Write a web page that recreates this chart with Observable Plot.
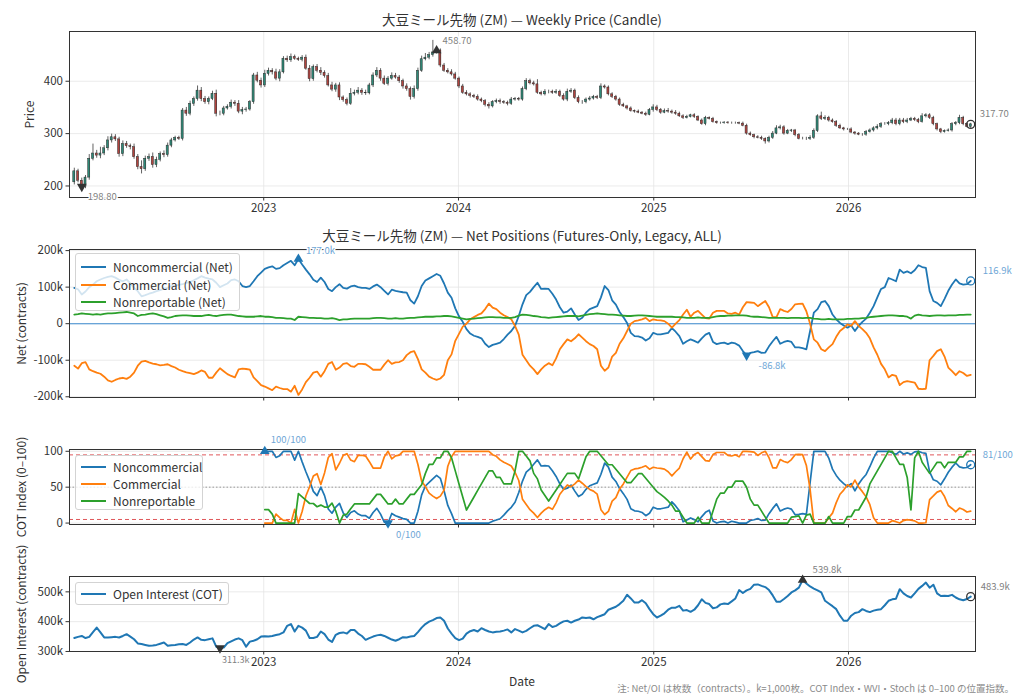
<!DOCTYPE html>
<html><head><meta charset="utf-8">
<script src="https://cdn.jsdelivr.net/npm/d3@7"></script>
<script src="https://cdn.jsdelivr.net/npm/@observablehq/plot@0.6"></script>
<style>
html,body{margin:0;padding:0;background:#fff;}
#wrap{position:relative;width:1024px;height:699px;overflow:hidden;font-family:"Noto Sans CJK JP","Noto Sans",sans-serif;color:#333;}
.panel{position:absolute;left:0;}
.title{position:absolute;left:69px;width:906px;text-align:center;font-size:13.5px;color:#333;white-space:nowrap;line-height:16px;}
.leg{position:absolute;background:rgba(255,255,255,0.8);border:1px solid #d3d3d3;border-radius:3px;box-sizing:border-box;}
.leg .sw{position:absolute;left:5px;width:25px;height:0;border-top:2px solid;}
.leg .lb{position:absolute;left:37px;font-size:12px;color:#333;white-space:nowrap;line-height:15px;}
.note{position:absolute;font-size:9.5px;color:#8a8a8a;white-space:nowrap;}
</style></head>
<body><div id="wrap"></div>
<script>
// ---------------- DATA ----------------
const startDate = "2022-01-11";           // first weekly observation
const xTicks = ["2023-01-01", "2024-01-01", "2025-01-01", "2026-01-01"];
const priceTicks = [200, 300, 400];
const netTicks = [-200, -100, 0, 100, 200];
const cotTicks = [0, 50, 100];
const oiTicks = [300, 400, 500];

// weekly close (ZM futures)
const closes = [
228,210,198.8,216,252,262,258,262,272,287,
293,289,261,280,276,274,255,236,232,252,
255,240,250,261,259,277,287,292,290,344,
338,357,366,382,366,360,366,376,338,338,
348,351,359,357,342,345,346,360,411,401,
392,414,420,417,405,417,443,440,446,443,
441,445,424,404,427,420,416,410,392,384,
392,369,364,357,376,378,382,378,377,392,
411,420,405,395,405,410,407,400,390,385,
370,385,420,442,445,450,455,458.7,430,420,
417,413,405,390,378,375,372,370,365,362,
355,352,360,362,360,359,357,365,366,365,
385,400,396,394,378,375,380,380,378,380,
372,365,380,382,368,360,360,365,367,370,
368,390,388,375,370,365,355,352,348,343,
342,340,338,336,345,350,345,340,343,342,
340,338,333,330,332,335,332,325,318,330,
328,322,320,320,321,320,320,320,319,315,
300,297,293,292,290,285,292,300,310,312,
300,305,306,297,290,290,290,292,305,333,
328,330,325,322,315,310,308,308,302,300,
298,298,303,306,310,313,318,318,320,325,
318,325,322,325,328,326,322,333,335,330,
318,308,303,305,306,318,320,330,318,313,
317.7];
const firstOpen = 207;
// upper / lower wick lengths beyond the body
const wickHi = [
6,4,5,4,8,18,6,12,5,7,6,5,4,6,5,4,6,5,12,5,
6,8,5,4,6,5,4,3,3,4,6,5,4,9,6,5,4,5,7,5,
4,4,5,4,6,5,4,3,4,6,5,7,5,4,6,5,4,5,6,4,
3,4,5,6,4,5,6,4,5,6,4,5,3,4,10,5,6,4,5,4,
5,6,4,5,4,6,5,4,4,5,4,6,5,6,8,5,23,4,3,4,
4,5,4,3,4,4,3,3,4,3,3,4,3,4,4,3,3,4,3,3,
4,5,4,4,9,3,4,3,3,4,3,4,5,4,3,4,3,3,4,3,
3,5,3,3,3,3,3,3,2,3,2,3,2,3,3,5,4,3,4,5,
3,4,3,3,3,2,3,2,3,3,2,3,2,2,2,2,2,2,2,3,
3,3,2,3,3,2,3,4,5,4,3,3,2,2,3,3,3,4,4,3,
8,4,3,3,3,3,2,2,3,2,2,2,3,3,3,4,3,3,3,4,
4,4,4,4,3,3,3,5,3,3,3,2,2,2,3,3,3,5,3,2,
2];
const wickLo = [
5,4,3,4,5,4,5,6,4,5,5,4,6,5,4,5,4,5,9,4,
5,6,5,4,5,4,4,3,3,4,5,4,5,4,5,4,5,3,6,4,
4,3,4,5,4,6,4,3,4,4,5,4,4,5,4,6,3,4,4,3,
3,4,3,5,4,4,5,4,3,4,5,6,4,4,3,4,4,5,4,3,
4,4,5,3,4,3,3,4,5,4,6,4,4,3,3,4,4,3,4,3,
3,3,3,4,3,3,4,3,3,3,4,5,3,3,4,3,4,3,3,3,
3,3,3,3,3,3,3,4,3,3,3,3,4,3,3,3,4,3,3,3,
3,3,3,3,3,3,3,2,3,2,3,2,2,3,2,4,3,3,2,3,
3,3,2,3,2,2,3,2,2,3,2,2,2,2,2,2,2,2,2,2,
3,2,3,2,3,5,3,3,2,3,3,2,3,3,2,2,3,3,3,3,
3,3,3,2,3,2,3,2,2,3,2,3,3,2,3,3,3,2,3,3,
3,3,3,3,2,3,3,2,3,3,3,3,3,2,2,3,3,3,3,2,
3];

// net positions, thousand contracts
const netNonComm = [
98,94,80,88,100,107,116,121,125,128,
130,126,120,116,121,110,98,89,75,78,
82,85,89,92,96,98,103,104,106,108,
112,114,119,124,130,126,123,121,112,100,
105,110,119,121,116,103,100,103,116,130,
140,150,154,157,150,152,160,166,172,160,
177,162,148,135,120,114,126,114,95,89,
100,108,98,96,102,104,100,98,98,95,
102,107,100,90,80,93,90,88,86,85,
64,55,75,103,118,124,130,136,131,110,
85,71,42,20,5,-15,-27,-33,-36,-40,
-55,-64,-58,-55,-52,-42,-30,-20,-6,21,
53,78,87,100,112,95,96,95,82,66,
45,30,33,42,25,10,16,30,40,44,
48,72,103,92,64,52,32,18,2,-25,
-34,-35,-38,-46,-40,-25,-29,-29,-27,-25,
-12,-22,-34,-55,-48,-43,-47,-52,-40,-30,
-25,-50,-56,-53,-52,-56,-52,-54,-60,-75,
-86.8,-80,-78,-75,-80,-79,-62,-48,-36,-55,
-50,-47,-50,-65,-65,-67,-70,-20,30,40,
59,62,48,25,12,2,-5,-11,-5,-20,
-6,5,14,30,48,72,95,100,125,121,
116,148,139,143,138,146,160,155,153,89,
62,57,48,68,90,107,121,110,107,108,
116.9];
const netComm = [
-115,-123,-108,-105,-125,-130,-134,-137,-145,-155,
-159,-154,-150,-148,-151,-145,-134,-115,-104,-102,
-106,-109,-111,-114,-113,-111,-116,-120,-126,-130,
-133,-135,-138,-134,-128,-132,-148,-148,-134,-122,
-130,-138,-143,-147,-125,-123,-124,-126,-147,-157,
-168,-172,-177,-182,-172,-176,-179,-179,-186,-170,
-195,-180,-160,-148,-134,-131,-145,-130,-110,-105,
-126,-120,-110,-108,-116,-118,-110,-110,-111,-118,
-126,-126,-126,-112,-100,-110,-106,-105,-100,-86,
-78,-75,-97,-125,-134,-145,-150,-154,-150,-140,
-100,-84,-47,-28,-8,0,12,18,24,28,
40,55,44,40,30,23,18,12,-6,-30,
-85,-100,-115,-125,-138,-125,-115,-108,-114,-95,
-70,-56,-43,-48,-40,-29,-38,-48,-56,-61,
-70,-115,-129,-120,-90,-80,-55,-40,-20,0,
7,9,12,16,7,12,10,9,7,0,
-11,0,10,25,38,19,30,35,25,15,
14,30,35,35,35,28,27,30,25,45,
59,58,57,48,55,62,45,18,18,40,
35,32,40,53,54,55,34,0,-43,-52,
-70,-75,-65,-56,-36,-20,-12,-2,-6,7,
-6,-15,-25,-40,-65,-85,-110,-125,-147,-140,
-143,-168,-160,-157,-159,-161,-178,-179,-178,-100,
-88,-75,-70,-90,-120,-130,-141,-130,-135,-143,
-140];
const netNonRep = [
25,26,28,27,26,25,26,25,27,28,
28,29,30,31,32,30,28,21,24,25,
27,28,26,23,20,16,18,21,22,23,
23,22,21,21,21,23,24,22,21,23,
24,25,25,23,21,20,19,19,19,20,
21,19,19,18,16,16,15,14,14,10,
19,18,17,16,16,15,15,14,14,15,
13,10,12,12,13,14,14,14,14,14,
15,16,16,15,14,14,15,14,14,15,
16,16,17,18,19,19,19,20,20,21,
21,20,18,16,14,12,13,14,15,16,
17,18,18,17,17,16,16,16,18,22,
25,24,23,21,20,18,17,16,17,18,
19,20,21,21,21,20,22,24,26,27,
28,27,26,25,25,24,23,22,21,21,
22,23,23,22,21,20,19,19,19,19,
19,18,18,17,16,16,16,17,16,16,
16,18,20,21,21,22,22,23,23,23,
22,20,19,19,18,17,16,16,16,16,
16,15,16,16,16,15,16,16,14,13,
12,12,13,12,12,12,12,13,13,14,
14,15,16,18,19,20,21,22,23,23,
22,21,21,19,14,22,25,23,22,21,
22,23,23,22,23,23,23,24,24,25,
25];

// open interest, thousand contracts
const openInterest = [
345,349,352,345,349,365,380,364,347,347,
348,349,347,352,358,350,341,327,325,322,
319,320,322,326,330,319,321,322,324,325,
322,330,340,347,339,338,341,344,316,311.3,
313,328,334,340,344,338,316,333,336,341,
350,351,350,352,355,358,364,386,392,367,
386,380,370,345,345,349,367,358,340,332,
356,362,364,360,372,372,360,352,339,345,
350,354,356,352,346,340,336,341,348,347,
350,352,365,380,392,400,405,412,414,403,
377,360,345,338,343,360,368,372,367,378,
372,367,364,366,367,370,374,364,375,370,
364,369,378,386,388,382,375,392,382,386,
394,401,403,397,403,407,414,412,414,408,
415,420,425,440,445,450,459,470,490,478,
464,464,472,462,442,425,414,420,428,440,
447,447,453,437,439,433,440,455,475,463,
459,445,448,458,461,459,468,478,506,496,
505,510,524,525,520,516,506,488,467,467,
476,486,498,505,514,539.8,528,518,511,505,
498,470,461,452,442,420,403,403,420,429,
432,442,436,432,437,440,442,455,470,475,
477,509,495,486,481,495,510,520,531,514,
524,495,486,487,486,490,481,475,472,476,
483.9];

const cotWindow = 52; // weeks of look-back for the COT index

// ---------------- BUILD ----------------
const t0 = new Date(startDate + "T00:00:00Z");
const dates = closes.map((_, i) => d3.utcDay.offset(t0, 7 * i));
const xTickDates = xTicks.map(d => new Date(d + "T00:00:00Z"));
const X = {type: "utc", domain: [new Date("2022-01-02T00:00:00Z"), new Date("2026-08-27T00:00:00Z")], label: null};

const candles = closes.map((c, i) => {
  const o = i ? closes[i - 1] : firstOpen;
  return {
    date: dates[i],
    x1: d3.utcHour.offset(dates[i], -46), x2: d3.utcHour.offset(dates[i], 46),
    open: o, close: c,
    high: Math.max(o, c) + wickHi[i], low: Math.min(o, c) - wickLo[i],
    up: c >= o
  };
});

const netRows = dates.map((d, i) => ({date: d, nc: netNonComm[i], c: netComm[i], nr: netNonRep[i]}));

function cotIndex(arr) {
  return arr.map((v, i) => {
    if (i < cotWindow - 1) return null;
    const w = arr.slice(i - cotWindow + 1, i + 1);
    const lo = d3.min(w), hi = d3.max(w);
    return hi > lo ? 100 * (v - lo) / (hi - lo) : 50;
  });
}
const idxNC = cotIndex(netNonComm), idxC = cotIndex(netComm), idxNR = cotIndex(netNonRep);
const cotRows = dates.map((d, i) => ({date: d, nc: idxNC[i], c: idxC[i], nr: idxNR[i]})).filter(r => r.nc != null);
const oiRows = dates.map((d, i) => ({date: d, oi: openInterest[i]}));

const C_NC = "#1f77b4", C_C = "#ff7f0e", C_NR = "#2ca02c";
const UP = "#2f8a78", DOWN = "#b2443f";
const ANN_BLUE = "#6ea6d6", ANN_GRAY = "#7f7f7f";
const gridCol = "#e4e4e4";
const st = {fontFamily: '"Noto Sans CJK JP","Noto Sans",sans-serif', fontSize: "11px", color: "#333", background: "transparent", overflow: "visible"};

function baseMarks(yTicks, yFmt, showXLabels, yLabel, labelDx) {
  return [
    Plot.gridX(xTickDates, {stroke: gridCol, strokeOpacity: 1, strokeWidth: 0.8}),
    Plot.gridY(yTicks, {stroke: gridCol, strokeOpacity: 1, strokeWidth: 0.8}),
    Plot.axisY(yTicks, {tickFormat: yFmt, tickSize: 3.5, tickPadding: 3, fontSize: 11.5, label: null}),
    Plot.axisX(xTickDates, {tickFormat: showXLabels ? d3.utcFormat("%Y") : () => "", tickSize: 3.5, tickPadding: 3, fontSize: 11.5, label: null}),
    Plot.text([yLabel], {text: d => d, frameAnchor: "left", dx: labelDx, rotate: -90, textAnchor: "middle", lineAnchor: "middle", fontSize: 12, fill: "#333"})
  ];
}
const halo = {stroke: "white", strokeWidth: 3, paintOrder: "stroke"};
const AF = 9.5; // annotation font size

// ---- price panel
const pMax = d3.maxIndex(closes), pMin = d3.minIndex(closes), last = closes.length - 1;
const p1 = Plot.plot({
  width: 1024, height: 215, marginTop: 31, marginBottom: 18, marginLeft: 69, marginRight: 49,
  x: X, y: {domain: [178, 495], label: null}, style: st,
  marks: [
    ...baseMarks(priceTicks, d => d, true, "Price", -39),
    Plot.ruleX(candles, {x: "date", y1: "low", y2: "high", stroke: "#3a3a3a", strokeWidth: 0.8}),
    Plot.rect(candles.filter(d => d.up), {x1: "x1", x2: "x2", y1: "open", y2: "close", fill: UP, stroke: "#2a2a2a", strokeWidth: 0.5}),
    Plot.rect(candles.filter(d => !d.up), {x1: "x1", x2: "x2", y1: "open", y2: "close", fill: DOWN, stroke: "#2a2a2a", strokeWidth: 0.5}),
    Plot.frame({stroke: "#333", strokeWidth: 1}),
    Plot.dot([pMax], {x: i => dates[i], y: i => closes[i], symbol: "triangle", fill: "#333", r: 3.6}),
    Plot.dot([pMin], {x: i => dates[i], y: i => closes[i], symbol: "triangle", rotate: 180, fill: "#333", r: 3.6}),
    Plot.dot([last], {x: i => dates[i], y: i => closes[i], r: 4, fill: "none", stroke: "#333", strokeWidth: 1.3}),
    Plot.text([pMax], {x: i => dates[i], y: i => closes[i], text: i => closes[i].toFixed(2), dx: 6, dy: -10, textAnchor: "start", fill: ANN_GRAY, fontSize: AF, ...halo}),
    Plot.text([pMin], {x: i => dates[i], y: i => closes[i], text: i => closes[i].toFixed(2), dx: 6, dy: 10, textAnchor: "start", fill: ANN_GRAY, fontSize: AF, ...halo}),
    Plot.text([last], {x: i => dates[i], y: i => closes[i], text: i => closes[i].toFixed(2), dx: 9, dy: -10, textAnchor: "start", fill: ANN_GRAY, fontSize: AF, ...halo})
  ]
});

// ---- net positions panel
const nMax = d3.maxIndex(netNonComm), nMin = d3.minIndex(netNonComm);
const kFmt = d => d === 0 ? "0" : `${d}k`;
const p2 = Plot.plot({
  width: 1024, height: 180, marginTop: 24, marginBottom: 8, marginLeft: 69, marginRight: 49,
  x: X, y: {domain: [-202, 203], label: null}, style: st,
  marks: [
    ...baseMarks(netTicks, kFmt, false, "Net (contracts)", -47),
    Plot.ruleY([0], {stroke: "#3d8bd0", strokeWidth: 1.1}),
    Plot.line(netRows, {x: "date", y: "nc", stroke: C_NC, strokeWidth: 1.8}),
    Plot.line(netRows, {x: "date", y: "c", stroke: C_C, strokeWidth: 1.8}),
    Plot.line(netRows, {x: "date", y: "nr", stroke: C_NR, strokeWidth: 1.8}),
    Plot.frame({stroke: "#333", strokeWidth: 1}),
    Plot.dot([nMax], {x: i => dates[i], y: i => netNonComm[i], symbol: "triangle", fill: C_NC, r: 3.6}),
    Plot.dot([nMin], {x: i => dates[i], y: i => netNonComm[i], symbol: "triangle", rotate: 180, fill: C_NC, r: 3.6}),
    Plot.dot([last], {x: i => dates[i], y: i => netNonComm[i], r: 4, fill: "none", stroke: C_NC, strokeWidth: 1.3}),
    Plot.text([nMax], {x: i => dates[i], y: i => netNonComm[i], text: i => netNonComm[i].toFixed(1) + "k", dx: 22, dy: -8, fill: ANN_BLUE, fontSize: AF, ...halo}),
    Plot.text([nMin], {x: i => dates[i], y: i => netNonComm[i], text: i => netNonComm[i].toFixed(1) + "k", dx: 12, dy: 11, textAnchor: "start", fill: ANN_BLUE, fontSize: AF, ...halo}),
    Plot.text([last], {x: i => dates[i], y: i => netNonComm[i], text: i => netNonComm[i].toFixed(1) + "k", dx: 12, dy: -10, textAnchor: "start", fill: ANN_BLUE, fontSize: AF, ...halo})
  ]
});

// ---- COT index panel
const ncVals = cotRows.map(r => r.nc);
const cMaxR = cotRows[d3.maxIndex(ncVals)], cMinR = cotRows[d3.minIndex(ncVals)], cLastR = cotRows[cotRows.length - 1];
const p3 = Plot.plot({
  width: 1024, height: 92, marginTop: 9, marginBottom: 8, marginLeft: 69, marginRight: 49,
  x: X, y: {domain: [-2, 102.5], label: null}, style: st,
  marks: [
    ...baseMarks(cotTicks, d => d, false, "COT Index (0–100)", -47),
    Plot.ruleY([95, 5], {stroke: "#e0575a", strokeWidth: 1, strokeDasharray: "4,3"}),
    Plot.ruleY([50], {stroke: "#9a9a9a", strokeWidth: 1, strokeDasharray: "1.5,2"}),
    Plot.line(cotRows, {x: "date", y: "nc", stroke: C_NC, strokeWidth: 1.7}),
    Plot.line(cotRows, {x: "date", y: "c", stroke: C_C, strokeWidth: 1.7}),
    Plot.line(cotRows, {x: "date", y: "nr", stroke: C_NR, strokeWidth: 1.7}),
    Plot.frame({stroke: "#333", strokeWidth: 1}),
    Plot.dot([cMaxR], {x: "date", y: "nc", symbol: "triangle", fill: C_NC, r: 3.6}),
    Plot.dot([cMinR], {x: "date", y: "nc", symbol: "triangle", rotate: 180, fill: C_NC, r: 3.6}),
    Plot.dot([cLastR], {x: "date", y: "nc", r: 4, fill: "none", stroke: C_NC, strokeWidth: 1.3}),
    Plot.text([cMaxR], {x: "date", y: "nc", text: r => `${Math.round(r.nc)}/100`, dx: 6, dy: -11, textAnchor: "start", fill: ANN_BLUE, fontSize: AF, ...halo}),
    Plot.text([cMinR], {x: "date", y: "nc", text: r => `${Math.round(r.nc)}/100`, dx: 8, dy: 12, textAnchor: "start", fill: ANN_BLUE, fontSize: AF, ...halo}),
    Plot.text([cLastR], {x: "date", y: "nc", text: r => `${Math.round(r.nc)}/100`, dx: 12, dy: -10, textAnchor: "start", fill: ANN_BLUE, fontSize: AF, ...halo})
  ]
});

// ---- open interest panel
const oMax = d3.maxIndex(openInterest), oMin = d3.minIndex(openInterest);
const p4 = Plot.plot({
  width: 1024, height: 139, marginTop: 16, marginBottom: 48, marginLeft: 69, marginRight: 49,
  x: X, y: {domain: [299.9, 551.5], label: null}, style: st,
  marks: [
    ...baseMarks(oiTicks, d => `${d}k`, true, "Open Interest (contracts)", -47),
    Plot.line(oiRows, {x: "date", y: "oi", stroke: C_NC, strokeWidth: 2}),
    Plot.frame({stroke: "#333", strokeWidth: 1}),
    Plot.dot([oMax], {x: i => dates[i], y: i => openInterest[i], symbol: "triangle", fill: "#333", r: 3.6}),
    Plot.dot([oMin], {x: i => dates[i], y: i => openInterest[i], symbol: "triangle", rotate: 180, fill: "#333", r: 3.6}),
    Plot.dot([last], {x: i => dates[i], y: i => openInterest[i], r: 4, fill: "none", stroke: "#333", strokeWidth: 1.3}),
    Plot.text([oMax], {x: i => dates[i], y: i => openInterest[i], text: i => openInterest[i].toFixed(1) + "k", dx: 10, dy: -10, textAnchor: "start", fill: ANN_GRAY, fontSize: AF, ...halo}),
    Plot.text([oMin], {x: i => dates[i], y: i => openInterest[i], text: i => openInterest[i].toFixed(1) + "k", dx: 2, dy: 12, textAnchor: "start", fill: ANN_GRAY, fontSize: 9, ...halo}),
    Plot.text([last], {x: i => dates[i], y: i => openInterest[i], text: i => openInterest[i].toFixed(1) + "k", dx: 10, dy: -10, textAnchor: "start", fill: ANN_GRAY, fontSize: AF, ...halo})
  ]
});

// ---------------- LAYOUT ----------------
const wrap = document.getElementById("wrap");
function place(node, top) { const d = document.createElement("div"); d.className = "panel"; d.style.top = top + "px"; d.appendChild(node); wrap.appendChild(d); }
place(p1, 0); place(p2, 225); place(p3, 440); place(p4, 560);

function addTitle(text, top) { const t = document.createElement("div"); t.className = "title"; t.style.top = top + "px"; t.textContent = text; wrap.appendChild(t); }
addTitle("大豆ミール先物 (ZM) — Weekly Price (Candle)", 11);
addTitle("大豆ミール先物 (ZM) — Net Positions (Futures-Only, Legacy, ALL)", 227);

function addLegend(left, top, w, h, items, rowTop, rowGap) {
  const b = document.createElement("div"); b.className = "leg";
  Object.assign(b.style, {left: left + "px", top: top + "px", width: w + "px", height: h + "px"});
  items.forEach(([label, color], k) => {
    const cy = rowTop + k * rowGap;
    const s = document.createElement("div"); s.className = "sw"; s.style.borderTopColor = color; s.style.top = (cy - 1) + "px"; b.appendChild(s);
    const l = document.createElement("div"); l.className = "lb"; l.style.top = (cy - 8) + "px"; l.textContent = label; b.appendChild(l);
  });
  wrap.appendChild(b);
}
addLegend(75, 253, 165, 58, [["Noncommercial (Net)", C_NC], ["Commercial (Net)", C_C], ["Nonreportable (Net)", C_NR]], 13, 17.5);
addLegend(75, 455, 128, 55, [["Noncommercial", C_NC], ["Commercial", C_C], ["Nonreportable", C_NR]], 11, 17);
addLegend(75, 582, 154, 23, [["Open Interest (COT)", C_NC]], 11, 17);

const dl = document.createElement("div"); dl.className = "title"; dl.style.top = "673px"; dl.style.fontSize = "12px"; dl.textContent = "Date"; wrap.appendChild(dl);
const note = document.createElement("div"); note.className = "note"; note.style.right = "10px"; note.style.top = "681px";
note.textContent = "注: Net/OI は枚数（contracts）。k=1,000枚。COT Index・WVI・Stoch は 0–100 の位置指数。";
wrap.appendChild(note);
</script></body></html>
